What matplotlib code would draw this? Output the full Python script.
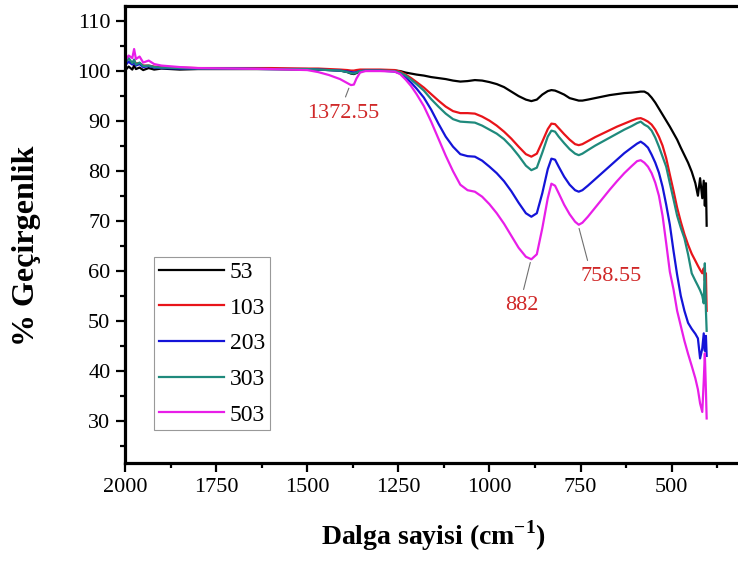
import numpy as np
import matplotlib
matplotlib.use("Agg")
import matplotlib.pyplot as plt
from matplotlib.ticker import MultipleLocator

plt.rcParams['font.family'] = ['Liberation Serif', 'DejaVu Serif']
plt.rcParams['mathtext.fontset'] = 'custom'
plt.rcParams['mathtext.rm'] = 'Liberation Serif:bold'
plt.rcParams['mathtext.bf'] = 'Liberation Serif:bold'

# Dalga sayisi (cm-1)
wn = [2000, 1990, 1980, 1975, 1970, 1960, 1950, 1935, 1920, 1900,
      1850, 1800, 1700, 1600, 1500, 1470, 1440, 1410, 1390, 1380,
      1372, 1365, 1355, 1340, 1300, 1260, 1245, 1230, 1215, 1200,
      1180, 1160, 1140, 1120, 1100, 1080, 1060, 1040, 1020, 1000,
      980, 960, 940, 920, 900, 885, 870, 855, 840, 830,
      820, 810, 795, 780, 765, 755, 745, 730, 710, 690,
      670, 650, 630, 610, 595, 585, 575, 565, 555, 545,
      535, 525, 515, 505, 495, 485, 475, 465, 455, 445,
      435, 428, 422, 416, 412, 409, 406, 404]

t53 = [100.0, 100.8, 100.2, 101.0, 100.3, 100.6, 100.1, 100.5, 100.2, 100.4,
       100.2, 100.3, 100.3, 100.3, 100.2, 100.2, 100.1, 100.0, 99.7, 99.4,
       99.3, 99.5, 99.9, 100.0, 100.0, 100.0, 99.9, 99.6, 99.4, 99.2,
       99.0, 98.7, 98.5, 98.3, 98.0, 97.8, 97.9, 98.1, 98.0, 97.7,
       97.3, 96.7, 95.8, 94.9, 94.2, 93.9, 94.2, 95.2, 95.9, 96.1,
       96.0, 95.7, 95.2, 94.5, 94.2, 94.0, 94.0, 94.2, 94.5, 94.8,
       95.1, 95.3, 95.5, 95.6, 95.7, 95.8, 95.8, 95.4, 94.6, 93.6,
       92.4, 91.2, 90.0, 88.8, 87.5, 86.2, 84.6, 83.1, 81.6, 79.8,
       77.5, 75.0, 78.5, 74.5, 78.0, 73.0, 77.5, 69.0]

t103 = [101.2, 101.8, 101.3, 102.0, 101.4, 101.5, 101.0, 101.0, 100.8, 100.7,
        100.6, 100.5, 100.5, 100.5, 100.4, 100.4, 100.3, 100.2, 100.1, 100.0,
        100.0, 100.1, 100.2, 100.2, 100.2, 100.1, 99.8, 99.2, 98.5, 97.7,
        96.6, 95.3, 94.0, 92.8, 91.9, 91.5, 91.5, 91.4, 90.8, 90.0,
        89.0, 87.8, 86.4, 84.8, 83.3, 82.8, 83.4, 85.8, 88.3, 89.4,
        89.3, 88.5, 87.3, 86.2, 85.3, 85.1, 85.3, 85.9, 86.7, 87.4,
        88.1, 88.8, 89.4, 90.0, 90.4, 90.5, 90.2, 89.8, 89.2, 88.2,
        86.8, 85.0, 82.5, 79.2, 76.0, 72.6, 69.8, 67.3, 65.2, 63.4,
        62.0, 61.0, 60.2, 59.5, 60.5, 58.0, 59.5, 52.0]

t203 = [101.0, 101.8, 101.2, 101.6, 101.0, 101.3, 100.7, 100.9, 100.6, 100.5,
        100.4, 100.4, 100.4, 100.3, 100.3, 100.2, 100.1, 100.0, 99.8, 99.7,
        99.6, 99.7, 99.9, 100.0, 100.0, 99.8, 99.4, 98.6, 97.6, 96.4,
        94.6, 92.2, 89.4, 86.8, 84.8, 83.3, 82.9, 82.8, 82.0, 80.8,
        79.5, 77.9, 75.9, 73.6, 71.5, 70.8, 71.5, 75.5, 80.3, 82.4,
        82.2, 80.8, 78.8, 77.2, 76.1, 75.8, 76.1, 77.0, 78.3, 79.6,
        80.9, 82.2, 83.5, 84.6, 85.4, 85.8, 85.3, 84.6, 83.2, 81.6,
        79.6, 76.8, 73.2, 69.2, 64.0, 59.2, 55.0, 52.0, 49.6, 48.4,
        47.4, 46.5, 42.5, 44.5, 47.5, 44.0, 47.0, 43.0]

t303 = [101.5, 102.5, 101.5, 102.2, 101.2, 101.6, 100.9, 101.0, 100.7, 100.6,
        100.5, 100.4, 100.4, 100.3, 100.3, 100.2, 100.1, 100.0, 99.7, 99.5,
        99.4, 99.6, 99.9, 100.0, 100.0, 99.9, 99.6, 99.0, 98.2, 97.3,
        96.0, 94.3, 92.8, 91.4, 90.3, 89.8, 89.7, 89.6, 89.0, 88.2,
        87.4, 86.3, 84.8, 83.0, 81.0, 80.1, 80.6, 83.6, 86.8, 88.0,
        87.8, 86.8, 85.5, 84.3, 83.4, 83.1, 83.4, 84.1, 85.0, 85.8,
        86.6, 87.4, 88.2, 88.9, 89.5, 89.8, 89.2, 88.8, 88.0, 86.6,
        84.8, 82.8, 80.8, 77.5, 74.3, 71.0, 68.6, 66.5, 63.3, 59.5,
        58.0, 57.0, 56.1, 55.0, 53.5, 61.5, 52.0, 48.0]

t503 = [102.0, 103.0, 102.5, 104.3, 102.3, 102.8, 101.6, 102.0, 101.3, 101.0,
        100.7, 100.5, 100.4, 100.3, 100.1, 99.7, 99.1, 98.3, 97.5, 97.1,
        97.2, 98.4, 99.6, 99.9, 99.9, 99.8, 99.3, 98.2, 96.9, 95.3,
        92.9, 89.8, 86.4, 83.0, 79.9, 77.2, 76.1, 75.8, 74.8, 73.3,
        71.5, 69.4, 67.0, 64.6, 62.8, 62.3, 63.3, 68.5, 74.5, 77.4,
        77.0, 75.5, 73.2, 71.3, 69.8, 69.2, 69.6, 70.8, 72.6, 74.4,
        76.2, 77.9, 79.5, 80.9, 81.9, 82.1, 81.6, 80.8, 79.5, 77.6,
        75.0, 71.0, 65.5, 59.8, 56.3, 52.0, 49.0, 46.0, 43.4, 41.0,
        38.5, 36.3, 33.5, 31.8, 38.0, 43.5, 36.0, 30.5]

labels = ['53', '103', '203', '303', '503']
colors = ['#000000', '#e8141a', '#1414d8', '#1f8a7c', '#e81ee8']

# pik etiketleri: (metin, pik konumu, metin konumu)
peaks = [('1372.55', (1383, 97.0), (1402, 91.5)),
         ('882', (886, 62.2), (911, 53.0)),
         ('758.55', (756, 69.0), (667, 58.8))]

fig = plt.figure(figsize=(7.38, 5.63), dpi=100)
ax = fig.add_axes([125 / 738, 1 - 463 / 563, 613 / 738, 457 / 563])

for t, lab, c in zip([t53, t103, t203, t303, t503], labels, colors):
    ax.plot(wn, t, color=c, lw=1.6, label=lab)

for txt, xy, xytext in peaks:
    relx = 0.15 if txt == '758.55' else 0.5
    ax.annotate(txt, xy=xy, xytext=xytext, color='#d02828', fontsize=16,
                ha='center', va='center',
                arrowprops=dict(arrowstyle='-', color='#707070', lw=0.8,
                                relpos=(relx, 1.0), shrinkA=3, shrinkB=2))

ax.set_xlim(2000, 318)
ax.set_ylim(21.6, 112.9)
ax.xaxis.set_major_locator(MultipleLocator(250))
ax.xaxis.set_minor_locator(MultipleLocator(125))
ax.yaxis.set_major_locator(MultipleLocator(10))
ax.yaxis.set_minor_locator(MultipleLocator(5))
ax.set_yticks(np.arange(30, 111, 10))

ax.spines['right'].set_visible(False)
for s in ['left', 'bottom', 'top']:
    ax.spines[s].set_linewidth(2.3)
ax.tick_params(which='major', direction='out', length=6.5, width=1.6,
               labelsize=16, pad=4)
ax.tick_params(which='minor', direction='out', length=3.5, width=1.6)
ax.tick_params(top=False, right=False, which='both')

ax.set_xlabel('Dalga sayisi (cm$^{-1}$)', fontsize=20, fontweight='bold')
ax.set_ylabel('% Geçirgenlik', fontsize=23, fontweight='bold')
ax.xaxis.set_label_coords(0.5025, -0.122)
ax.yaxis.set_label_coords(-0.137, 0.475)

leg = ax.legend(loc='upper left', bbox_to_anchor=(0.0478, 0.4514),
                borderaxespad=0, fontsize=17, handlelength=2.75,
                handletextpad=0.25, labelspacing=0.6, borderpad=0.2,
                fancybox=False, framealpha=1, edgecolor='#999999')
leg.get_frame().set_linewidth(0.8)

fig.savefig('out.png', dpi=100)
